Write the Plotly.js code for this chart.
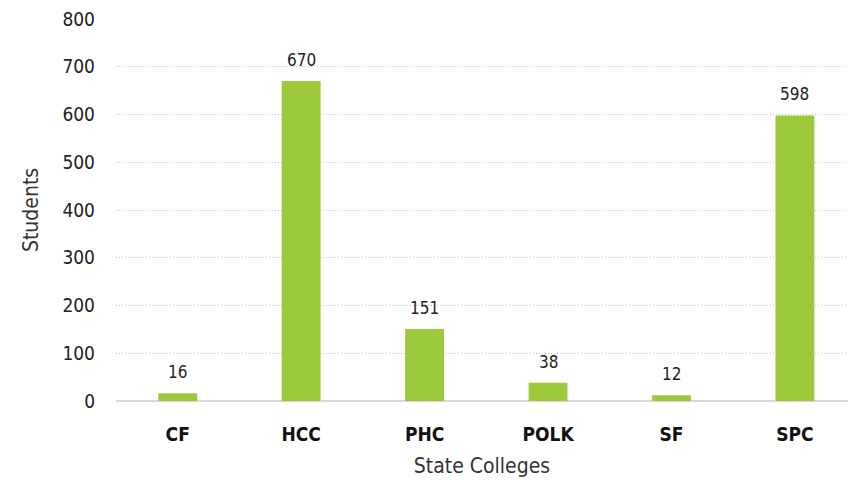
<!DOCTYPE html>
<html>
<head>
<meta charset="utf-8">
<script src="https://cdn.plot.ly/plotly-3.0.1.min.js"></script>
<style>html,body{margin:0;padding:0;background:#fff;}#chart{width:848px;height:480px;}</style>
</head>
<body>
<div id="chart"></div>
<script>
const categories = ["CF", "HCC", "PHC", "POLK", "SF", "SPC"];
const students = [16, 670, 151, 38, 12, 598];
const yTicks = [0, 100, 200, 300, 400, 500, 600, 700, 800];

const FONT = '"Liberation Sans Narrow", "DejaVu Sans Condensed", "Roboto Condensed", "Arial Narrow", sans-serif';
const GREEN = '#9cc93b';

const trace = {
  type: 'bar',
  x: categories,
  y: students,
  marker: {color: GREEN},
  hoverinfo: 'none'
};

const annotations = categories.map((c, i) => ({
  x: c, y: students[i], text: String(students[i]),
  xref: 'x', yref: 'y', showarrow: false,
  yanchor: 'bottom', yshift: 9,
  font: {family: FONT, size: 17, color: '#222'}
}));

const layout = {
  width: 848, height: 480,
  margin: {l: 116, r: 0, t: 19, b: 79},
  paper_bgcolor: '#fff', plot_bgcolor: '#fff',
  showlegend: false,
  bargap: 0.685,
  font: {family: FONT, color: '#222'},
  xaxis: {
    range: [-0.5, 5.43],
    showgrid: false, showline: false, zeroline: false,
    ticks: '', ticklabelstandoff: 20,
    tickfont: {family: FONT, size: 19, color: '#111', weight: 'bold'},
    title: {text: 'State Colleges', font: {family: FONT, size: 21, color: '#333'}, standoff: 14}
  },
  yaxis: {
    range: [0, 800],
    tickvals: yTicks,
    showgrid: true, gridcolor: '#bdbdbd', gridwidth: 1, griddash: '1px,2px',
    zeroline: true, zerolinecolor: '#d9d9d9', zerolinewidth: 2,
    showline: false, ticks: '', ticklabelstandoff: 20,
    tickfont: {family: FONT, size: 19, color: '#222'},
    title: {text: 'Students', font: {family: FONT, size: 21, color: '#333'}, standoff: 18}
  },
  annotations: annotations
};

Plotly.newPlot('chart', [trace], layout, {displayModeBar: false, staticPlot: true});
</script>
</body>
</html>
